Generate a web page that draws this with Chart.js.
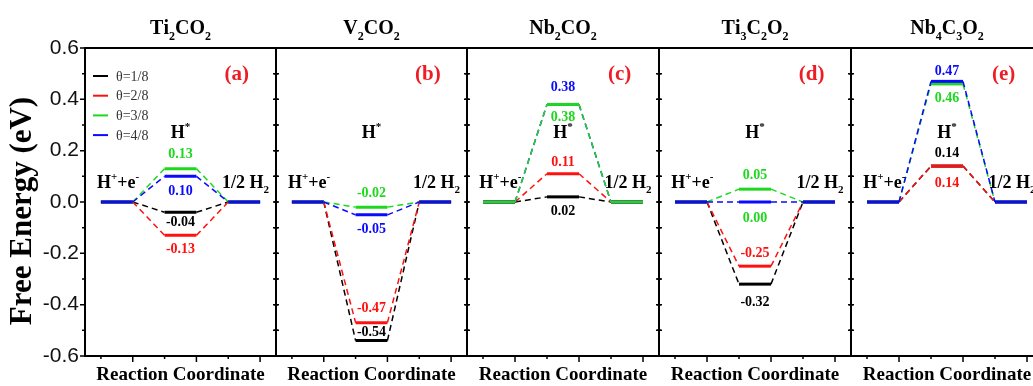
<!DOCTYPE html>
<html>
<head>
<meta charset="utf-8">
<script src="https://cdn.jsdelivr.net/npm/chart.js@4.4.1/dist/chart.umd.min.js"></script>
<style>
  html, body { margin: 0; padding: 0; background: #fff; }
  #wrap { position: relative; width: 1033px; height: 386px; overflow: hidden; background: #fff; }
  #wrap canvas { position: absolute; top: 0; }
</style>
</head>
<body>
<div id="wrap"></div>
<script>
// reaction coordinate positions: H+ + e- (1-2), H* (3-4), 1/2 H2 (5-6)
const steps = [1, 2, 3, 4, 5, 6];
const stateOfStep = [0, 0, 1, 1, 2, 2];
const coverages = ['θ=1/8', 'θ=2/8', 'θ=3/8', 'θ=4/8'];
const materials = ['Ti2CO2', 'V2CO2', 'Nb2CO2', 'Ti3C2O2', 'Nb4C3O2'];
const panelTags = ['(a)', '(b)', '(c)', '(d)', '(e)'];
const yTicks = [-0.6, -0.4, -0.2, 0.0, 0.2, 0.4, 0.6];

// free energy of H* for θ = 1/8, 2/8, 3/8, 4/8
const dgTi2CO2 = [-0.04, -0.13, 0.13, 0.10];
const dgV2CO2 = [-0.54, -0.47, -0.02, -0.05];
const dgNb2CO2 = [0.02, 0.11, 0.38, 0.38];
const dgTi3C2O2 = [-0.32, -0.25, 0.05, 0.00];
const dgNb4C3O2 = [0.14, 0.14, 0.46, 0.47];
const panelValues = [dgTi2CO2, dgV2CO2, dgNb2CO2, dgTi3C2O2, dgNb4C3O2];

// styling
const seriesColors = ['#000000', '#ff1010', '#1ed81e', '#0a0aff'];
const drawOrder = [[0, 1, 2, 3], [0, 1, 2, 3], [0, 1, 3, 2], [0, 1, 2, 3], [0, 1, 2, 3]];
// pixel offset of each value label from its level line (negative = above)
const tagOffsets = [
  [10, 14, -14, 15],
  [-8, -14, -14, 15],
  [15, -11, 13, -17],
  [18, -13, -14, 16],
  [-13, 17, 14, -10]
];
const tagColorFix = { '3-3': '#1ed81e' };
const borders = [85, 276, 467, 659, 851, 1043];

const SERIF = '"Liberation Serif", "Times New Roman", serif';
const SANS = '"Liberation Sans", Arial, sans-serif';

function titleParts(name) {
  return name.split('').map((c) => [c, /\d/.test(c) ? 'sub' : '']);
}

function drawRich(ctx, parts, x, y, size, align, color) {
  const small = Math.round(size * 0.62);
  let total = 0;
  const widths = parts.map(([t, k]) => {
    ctx.font = `bold ${k ? small : size}px ${SERIF}`;
    const w = ctx.measureText(t).width;
    total += w;
    return w;
  });
  let cx = align === 'center' ? x - total / 2 : x;
  ctx.fillStyle = color;
  ctx.textAlign = 'left';
  ctx.textBaseline = 'alphabetic';
  parts.forEach(([t, k], i) => {
    ctx.font = `bold ${k ? small : size}px ${SERIF}`;
    const dy = k === 'sub' ? size * 0.3 : k === 'sup' ? -size * 0.42 : 0;
    ctx.fillText(t, cx, y + dy);
    cx += widths[i];
  });
}

const hPlusParts = [['H', ''], ['+', 'sup'], ['+e', ''], ['-', 'sup']];
const hStarParts = [['H', ''], ['*', 'sup']];
const halfH2Parts = [['1/2 H', ''], ['2', 'sub']];

function makeDecor(p) {
  return {
    id: 'panelDecor',
    afterDraw(chart) {
      const { ctx, chartArea: a, scales: { x, y } } = chart;
      ctx.save();

      // frame
      ctx.strokeStyle = '#000';
      ctx.lineWidth = 2;
      ctx.strokeRect(a.left, a.top, a.right - a.left, a.bottom - a.top);

      // x ticks
      ctx.lineWidth = 1.5;
      steps.forEach((s) => {
        const px = x.getPixelForValue(s);
        ctx.beginPath();
        ctx.moveTo(px, a.bottom);
        ctx.lineTo(px, a.bottom + (s % 2 === 0 ? 6 : 3));
        ctx.stroke();
      });

      // y ticks (major every 0.2, minor every 0.1)
      for (let k = -6; k <= 6; k++) {
        const py = y.getPixelForValue(k / 10);
        const major = k % 2 === 0;
        ctx.beginPath();
        if (p === 0) {
          ctx.moveTo(a.left - (major ? 5 : 3), py);
          ctx.lineTo(a.left, py);
        } else {
          ctx.moveTo(a.left - 3, py);
          ctx.lineTo(a.left + 3, py);
        }
        ctx.moveTo(a.right - 3, py);
        ctx.lineTo(a.right + 3, py);
        ctx.stroke();
      }

      // panel title
      drawRich(ctx, titleParts(materials[p]), (a.left + a.right) / 2, 34, 20, 'center', '#000');

      // panel tag
      ctx.font = `bold 21px ${SERIF}`;
      ctx.fillStyle = '#ee1c24';
      ctx.textAlign = 'center';
      ctx.textBaseline = 'alphabetic';
      ctx.fillText(panelTags[p], x.getPixelForValue(5.27), y.getPixelForValue(0.475));

      // state labels
      const y0 = y.getPixelForValue(0);
      drawRich(ctx, hPlusParts, x.getPixelForValue(0.88), y0 - 14, 18, 'left', '#000');
      drawRich(ctx, halfH2Parts, x.getPixelForValue(4.8), y0 - 14, 18, 'left', '#000');
      drawRich(ctx, hStarParts, x.getPixelForValue(3.5), y.getPixelForValue(0.25), 18, 'center', '#000');

      // value labels
      ctx.font = `bold 14px ${SERIF}`;
      ctx.textAlign = 'center';
      ctx.textBaseline = 'middle';
      panelValues[p].forEach((v, s) => {
        ctx.fillStyle = tagColorFix[`${p}-${s}`] || seriesColors[s];
        ctx.fillText(v.toFixed(2), x.getPixelForValue(3.5), y.getPixelForValue(v) + tagOffsets[p][s]);
      });

      if (p === 0) {
        // legend
        ctx.font = `14px ${SERIF}`;
        ctx.textAlign = 'left';
        ctx.textBaseline = 'middle';
        coverages.forEach((label, s) => {
          const ly = a.top + 28 + s * 19.7;
          ctx.strokeStyle = seriesColors[s];
          ctx.lineWidth = 2;
          ctx.beginPath();
          ctx.moveTo(a.left + 8, ly);
          ctx.lineTo(a.left + 23, ly);
          ctx.stroke();
          ctx.fillStyle = '#333';
          ctx.fillText(label, a.left + 31, ly + 1);
        });

        // y title
        ctx.save();
        ctx.translate(23, 211);
        ctx.rotate(-Math.PI / 2);
        ctx.font = `bold 31px ${SERIF}`;
        ctx.fillStyle = '#000';
        ctx.textAlign = 'center';
        ctx.textBaseline = 'middle';
        ctx.fillText('Free Energy (eV)', 0, 0);
        ctx.restore();
      }
      ctx.restore();
    }
  };
}

const wrap = document.getElementById('wrap');

panelValues.forEach((values, p) => {
  const left = borders[p];
  const right = borders[p + 1];
  const padL = p === 0 ? 85 : 2;
  const canvas = document.createElement('canvas');
  canvas.width = right - left + padL + 2;
  canvas.height = 386;
  canvas.style.left = (left - padL) + 'px';
  wrap.appendChild(canvas);

  const datasets = values.map((v, s) => {
    const states = [0, v, 0];
    return {
      label: coverages[s],
      data: steps.map((st, i) => ({ x: st, y: states[stateOfStep[i]] })),
      borderColor: seriesColors[s],
      borderWidth: 3,
      pointRadius: 0,
      fill: false,
      tension: 0,
      order: 3 - drawOrder[p].indexOf(s),
      segment: {
        borderDash: (ctx) => (ctx.p0DataIndex % 2 === 1 ? [6, 4] : []),
        borderWidth: (ctx) => (ctx.p0DataIndex % 2 === 1 ? 1.5 : 3),
      },
    };
  });

  new Chart(canvas, {
    type: 'line',
    data: { datasets },
    options: {
      responsive: false,
      animation: false,
      layout: { padding: { top: 48, left: p === 0 ? 0 : 2, right: 2, bottom: 0 } },
      plugins: { legend: { display: false }, tooltip: { enabled: false } },
      scales: {
        x: {
          type: 'linear',
          min: 0.5,
          max: 6.5,
          ticks: { display: false },
          grid: { display: false, drawTicks: false },
          border: { display: false },
          title: {
            display: true,
            text: 'Reaction Coordinate',
            color: '#000',
            padding: 0,
            font: { family: SERIF, size: 19, weight: 'bold' },
          },
          afterFit: (scale) => { scale.height = 30; },
        },
        y: {
          display: p === 0,
          min: -0.6,
          max: 0.6,
          afterBuildTicks: (scale) => { scale.ticks = yTicks.map((v) => ({ value: v })); },
          ticks: {
            padding: 6,
            color: '#111',
            font: { family: SANS, size: 21 },
            callback: (v) => Number(v).toFixed(1),
          },
          grid: { display: false, drawTicks: false },
          border: { display: false },
          afterFit: (scale) => { scale.width = p === 0 ? 85 : 0; },
        },
      },
    },
    plugins: [makeDecor(p)],
  });
});
</script>
</body>
</html>
